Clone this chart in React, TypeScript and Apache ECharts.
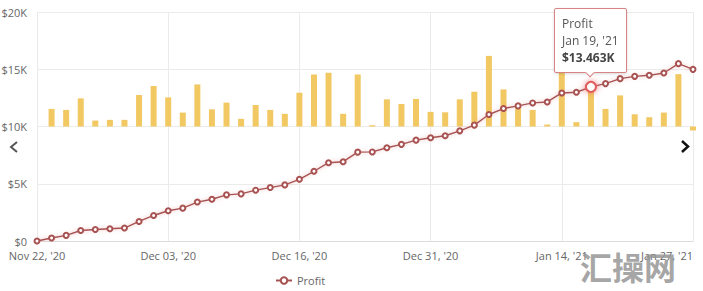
import React, { useEffect, useRef } from "react";
import * as echarts from "echarts";

const dates = [
  "Nov 22, '20", "Nov 23, '20", "Nov 24, '20", "Nov 25, '20", "Nov 26, '20",
  "Nov 27, '20", "Nov 29, '20", "Nov 30, '20", "Dec 01, '20", "Dec 03, '20",
  "Dec 04, '20", "Dec 06, '20", "Dec 07, '20", "Dec 08, '20", "Dec 09, '20",
  "Dec 10, '20", "Dec 13, '20", "Dec 14, '20", "Dec 16, '20", "Dec 17, '20",
  "Dec 18, '20", "Dec 20, '20", "Dec 21, '20", "Dec 22, '20", "Dec 23, '20",
  "Dec 27, '20", "Dec 28, '20", "Dec 31, '20", "Jan 03, '21", "Jan 04, '21",
  "Jan 05, '21", "Jan 06, '21", "Jan 07, '21", "Jan 08, '21", "Jan 10, '21",
  "Jan 11, '21", "Jan 14, '21", "Jan 17, '21", "Jan 19, '21", "Jan 20, '21",
  "Jan 21, '21", "Jan 22, '21", "Jan 24, '21", "Jan 25, '21", "Jan 26, '21",
  "Jan 27, '21",
];

const profit = [
  0, 260, 490, 920, 1010, 1070, 1130, 1705, 2230, 2640,
  2870, 3400, 3650, 4030, 4115, 4440, 4665, 4900, 5390, 6090,
  6840, 6925, 7760, 7780, 8140, 8440, 8810, 9015, 9190, 9620,
  10120, 11050, 11570, 11800, 12060, 12145, 12930, 12990, 13463, 13745,
  14180, 14380, 14470, 14670, 15490, 14990,
];

const daily = [
  0, 249, 235, 398, 84, 94, 94, 446, 573, 412,
  197, 595, 243, 338, 108, 305, 235, 179, 478, 736,
  760, 179, 736, 18, 384, 319, 390, 207, 201, 384,
  492, 999, 525, 257, 235, 28, 774, 61, 507, 249,
  440, 173, 131, 197, 741, -56,
];

const yTicks = [0, 5000, 10000, 15000, 20000];
const highlightIndex = 38;

const FONT = "'Open Sans', sans-serif";

function fmtMoney(v: number): string {
  if (v === 0) return "$0";
  return "$" + v / 1000 + "K";
}

export default function App() {
  const ref = useRef<HTMLDivElement | null>(null);

  useEffect(() => {
    document.body.style.margin = "0";
    if (!ref.current) return;
    const chart = echarts.init(ref.current, undefined, { renderer: "svg" });
    const option: any = {
      animation: false,
      textStyle: { fontFamily: FONT },
      grid: {
        left: 37,
        right: 10,
        top: 12,
        bottom: 50,
        containLabel: false,
        outerBoundsMode: "none",
      },
      legend: {
        data: ["Profit"],
        left: 270,
        bottom: 0,
        itemWidth: 16,
        itemHeight: 8,
        textStyle: { color: "#666", fontSize: 11, fontFamily: FONT },
      },
      tooltip: {
        show: true,
        trigger: "item",
        position: "top",
        alwaysShowContent: true,
        transitionDuration: 0,
        backgroundColor: "#fff",
        borderColor: "#d88484",
        borderWidth: 1,
        padding: [6, 7],
        textStyle: { color: "#555", fontSize: 12, fontFamily: FONT },
        extraCssText:
          "box-shadow: 0 1px 3px rgba(0,0,0,0.15); border-radius: 2px; line-height: 17px;",
        formatter: (p: any) => {
          if (p.seriesName !== "Profit") return "";
          const v = (p.value / 1000).toFixed(3);
          return (
            "Profit<br/>" + p.name + "<br/><b style=\"color:#444\">$" + v + "K</b>"
          );
        },
      },
      xAxis: {
        type: "category",
        data: dates,
        boundaryGap: false,
        axisLine: { lineStyle: { color: "#dcdcdc", width: 1 } },
        axisTick: { show: false },
        axisLabel: {
          interval: 8,
          color: "#666",
          fontSize: 11,
          margin: 9,
          fontFamily: FONT,
          alignMaxLabel: "right",
        },
        splitLine: { show: true, interval: 8, lineStyle: { color: "#ebebeb" } },
      },
      yAxis: [
        {
          type: "value",
          min: yTicks[0],
          max: yTicks[yTicks.length - 1],
          interval: 5000,
          axisLine: { show: false },
          axisTick: { show: false },
          axisLabel: {
            color: "#666",
            fontSize: 11,
            margin: 10,
            fontFamily: FONT,
            formatter: (v: number) => fmtMoney(v),
          },
          splitLine: { lineStyle: { color: "#ebebeb" } },
        },
        {
          type: "value",
          min: -1620,
          max: 1620,
          show: false,
          splitLine: { show: false },
        },
      ],
      series: [
        {
          name: "Daily",
          type: "bar",
          yAxisIndex: 1,
          data: daily,
          barWidth: 6,
          silent: true,
          itemStyle: { color: "#f1c862" },
          z: 1,
        },
        {
          name: "Profit",
          type: "line",
          data: profit,
          symbol: "emptyCircle",
          symbolSize: 5,
          z: 3,
          lineStyle: {
            color: "#a85252",
            width: 1.4,
            shadowColor: "rgba(225,130,130,0.6)",
            shadowBlur: 4,
          },
          itemStyle: { color: "#a85252", borderWidth: 1 },
          emphasis: { disabled: true },
          markPoint: {
            silent: true,
            symbol: "circle",
            symbolSize: 10,
            itemStyle: {
              color: "#fff",
              borderColor: "#e25b5b",
              borderWidth: 2,
              shadowColor: "rgba(235,90,90,0.7)",
              shadowBlur: 6,
            },
            label: { show: false },
            data: [{ coord: [dates[highlightIndex], profit[highlightIndex]] }],
          },
        },
      ],
      graphic: [
        {
          type: "polyline",
          shape: { points: [[17, 142], [11, 147], [17, 152]] },
          style: { stroke: "#555", lineWidth: 2, fill: null },
          silent: true,
        },
        {
          type: "polyline",
          shape: { points: [[682, 141], [688, 146.5], [682, 152]] },
          style: { stroke: "#111", lineWidth: 2.5, fill: null },
          silent: true,
        },
        {
          type: "text",
          left: 580,
          top: 250,
          silent: true,
          z: 100,
          style: {
            text: "汇操网",
            fontSize: 32,
            fontWeight: "bold",
            fontFamily: "'Noto Sans CJK SC', sans-serif",
            fill: "rgba(150,150,150,0.85)",
          },
        },
      ],
    };
    chart.setOption(option);
    chart.dispatchAction({ type: "showTip", seriesIndex: 1, dataIndex: highlightIndex });
    return () => {
      chart.dispose();
    };
  }, []);

  return (
    <div
      ref={ref}
      style={{ position: "fixed", left: 0, top: 0, width: 703, height: 291 }}
    />
  );
}
